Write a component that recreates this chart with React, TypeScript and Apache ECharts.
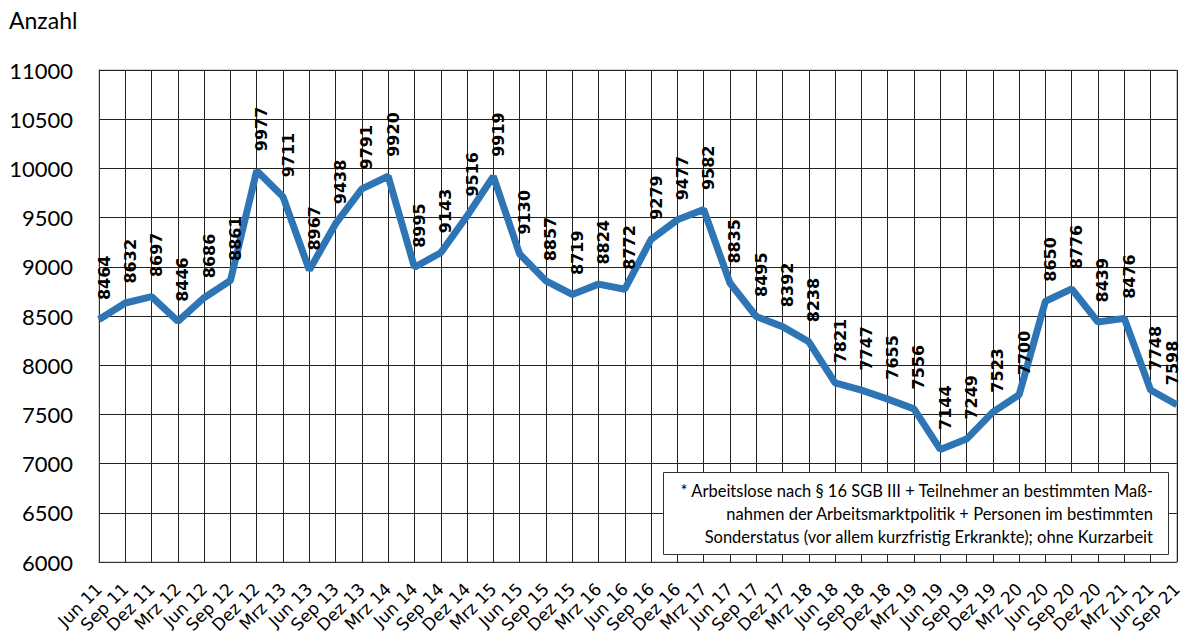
import React, { useEffect, useRef } from "react";
import * as echarts from "echarts";

const categories = [
  "Jun 11", "Sep 11", "Dez 11", "Mrz 12", "Jun 12", "Sep 12", "Dez 12", "Mrz 13",
  "Jun 13", "Sep 13", "Dez 13", "Mrz 14", "Jun 14", "Sep 14", "Dez 14", "Mrz 15",
  "Jun 15", "Sep 15", "Dez 15", "Mrz 16", "Jun 16", "Sep 16", "Dez 16", "Mrz 17",
  "Jun 17", "Sep 17", "Dez 17", "Mrz 18", "Jun 18", "Sep 18", "Dez 18", "Mrz 19",
  "Jun 19", "Sep 19", "Dez 19", "Mrz 20", "Jun 20", "Sep 20", "Dez 20", "Mrz 21",
  "Jun 21", "Sep 21",
];

const values = [
  8464, 8632, 8697, 8446, 8686, 8861, 9977, 9711,
  8967, 9438, 9791, 9920, 8995, 9143, 9516, 9919,
  9130, 8857, 8719, 8824, 8772, 9279, 9477, 9582,
  8835, 8495, 8392, 8238, 7821, 7747, 7655, 7556,
  7144, 7249, 7523, 7700, 8650, 8776, 8439, 8476,
  7748, 7598,
];

const yMin = 6000;
const yMax = 11000;
const yStep = 500;

const yTitle = "Anzahl";
const noteLines = [
  "* Arbeitslose nach § 16 SGB III + Teilnehmer an bestimmten Maß-",
  "nahmen der Arbeitsmarktpolitik + Personen im bestimmten",
  "Sonderstatus (vor allem kurzfristig Erkrankte); ohne Kurzarbeit",
];

export default function App() {
  const ref = useRef<HTMLDivElement>(null);
  useEffect(() => {
    if (!ref.current) return;
    const chart = echarts.init(ref.current, undefined, { renderer: "svg" });
    const seriesData = values.map((v, i) =>
      i === values.length - 1 ? { value: v, label: { offset: [0, -4] } } : v
    );
    chart.setOption({
      animation: false,
      backgroundColor: "#fff",
      grid: { left: 99, right: 8, top: 70, bottom: 77, containLabel: false, show: true, borderColor: "#aaa", borderWidth: 1 },
      graphic: [
        {
          type: "text",
          left: 9,
          top: 8,
          style: { text: yTitle, font: "23px Lato, 'Open Sans', sans-serif", fill: "#000" },
        },
        {
          type: "rect",
          z: 100,
          shape: { x: 663.5, y: 472.5, width: 505, height: 82 },
          style: { fill: "#fff", stroke: "#333", lineWidth: 1 },
        },
        {
          type: "text",
          z: 101,
          x: 1153,
          y: 479,
          style: {
            text: noteLines.join("\n"),
            font: "16.5px Lato, 'Open Sans', sans-serif",
            fill: "#000",
            align: "right",
            lineHeight: 23,
          },
        },
      ],
      xAxis: {
        type: "category",
        data: categories,
        boundaryGap: false,
        axisLine: { show: true, lineStyle: { color: "#333", width: 1 } },
        axisTick: { show: false },
        splitLine: { show: true, lineStyle: { color: "#222", width: 1 } },
        axisLabel: {
          interval: 0,
          rotate: 45,
          margin: 24,
          color: "#000",
          fontSize: 17,
          fontFamily: "'DejaVu Sans', sans-serif",
        },
      },
      yAxis: {
        type: "value",
        min: yMin,
        max: yMax,
        interval: yStep,
        axisLine: { show: true, lineStyle: { color: "#333" } },
        axisTick: { show: false },
        splitLine: { show: true, lineStyle: { color: "#222", width: 1 } },
        axisLabel: {
          margin: 26,
          color: "#000",
          fontSize: 22,
          fontFamily: "Lato, 'Open Sans', sans-serif",
          formatter: (v: number) => String(v),
        },
      },
      series: [
        {
          type: "line",
          data: seriesData,
          symbol: "circle",
          symbolSize: 1,
          showSymbol: true,
          itemStyle: { color: "#2E75B6" },
          lineStyle: { color: "#2E75B6", width: 7 },
          label: {
            show: true,
            position: "top",
            distance: 19,
            rotate: 90,
            align: "left",
            verticalAlign: "middle",
            offset: [0, 5],
            color: "#000",
            fontSize: 16,
            fontWeight: "bold",
            fontFamily: "'DejaVu Sans', sans-serif",
          },
        },
      ],
    });
    return () => chart.dispose();
  }, []);
  return <div ref={ref} style={{ width: 1185, height: 639, position: "absolute", left: 0, top: 0 }} />;
}
